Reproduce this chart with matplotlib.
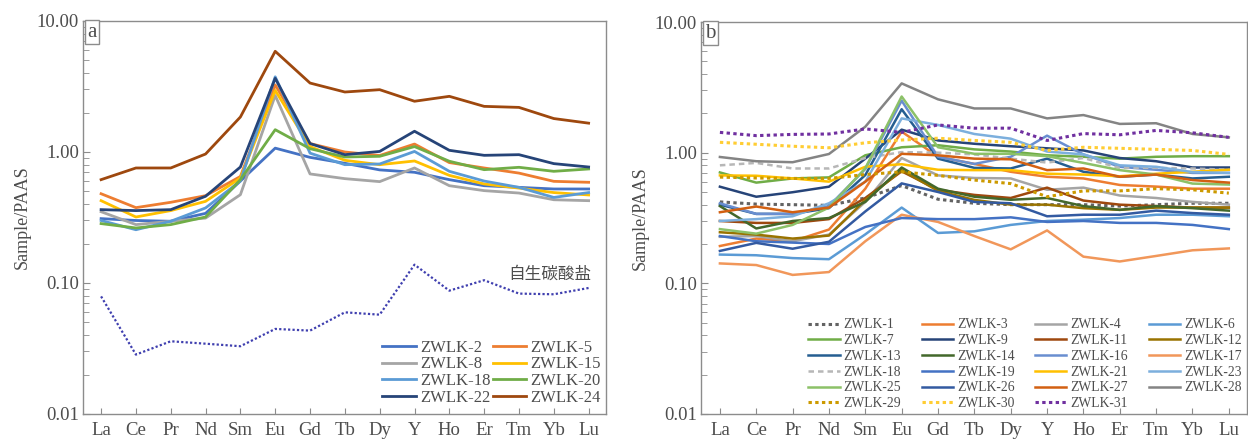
import matplotlib
matplotlib.use("Agg")
import matplotlib.pyplot as plt
from matplotlib.ticker import LogLocator, FixedLocator, FuncFormatter, NullFormatter

plt.rcParams['font.family'] = ['Liberation Serif', 'DejaVu Serif']

# ===== dados =====
elementos = ["La", "Ce", "Pr", "Nd", "Sm", "Eu", "Gd", "Tb", "Dy", "Y", "Ho", "Er", "Tm", "Yb", "Lu"]

# painel a
zwlk2 = [0.31, 0.30, 0.296, 0.34, 0.60, 1.07, 0.91, 0.82, 0.73, 0.70, 0.615, 0.553, 0.537, 0.522, 0.522]
zwlk5 = [0.48, 0.376, 0.413, 0.464, 0.65, 3.25, 1.16, 1.0, 0.94, 1.15, 0.83, 0.755, 0.69, 0.597, 0.587]
zwlk8 = [0.35, 0.279, 0.296, 0.313, 0.472, 2.7, 0.68, 0.626, 0.594, 0.755, 0.553, 0.507, 0.486, 0.432, 0.425]
zwlk15 = [0.425, 0.319, 0.357, 0.42, 0.633, 2.95, 1.1, 0.864, 0.80, 0.854, 0.663, 0.57, 0.53, 0.49, 0.47]
zwlk18a = [0.30, 0.255, 0.296, 0.374, 0.60, 3.75, 0.98, 0.80, 0.81, 1.01, 0.712, 0.60, 0.537, 0.45, 0.49]
zwlk20 = [0.284, 0.263, 0.279, 0.319, 0.615, 1.48, 1.06, 0.916, 0.927, 1.10, 0.85, 0.733, 0.764, 0.712, 0.742]
zwlk22 = [0.363, 0.357, 0.363, 0.459, 0.768, 3.65, 1.16, 0.954, 1.01, 1.44, 1.03, 0.943, 0.954, 0.815, 0.768]
zwlk24 = [0.615, 0.755, 0.755, 0.965, 1.85, 5.87, 3.36, 2.87, 2.99, 2.44, 2.66, 2.23, 2.19, 1.80, 1.66]
carbonato = [0.079, 0.0284, 0.0359, 0.0344, 0.0329, 0.0446, 0.0433, 0.0597, 0.0573, 0.138, 0.0874, 0.105, 0.083, 0.082, 0.0916]

# painel b
zwlk1 = [0.42, 0.404, 0.40, 0.395, 0.45, 0.56, 0.44, 0.41, 0.40, 0.40, 0.40, 0.39, 0.40, 0.41, 0.41]
zwlk3 = [0.193, 0.22, 0.21, 0.258, 0.53, 1.45, 0.93, 0.82, 0.714, 0.654, 0.635, 0.566, 0.55, 0.53, 0.53]
zwlk4 = [0.227, 0.23, 0.21, 0.236, 0.42, 0.91, 0.67, 0.64, 0.635, 0.52, 0.54, 0.47, 0.45, 0.42, 0.40]
zwlk6 = [0.166, 0.164, 0.156, 0.153, 0.237, 0.38, 0.243, 0.25, 0.28, 0.30, 0.307, 0.316, 0.335, 0.335, 0.326]
zwlk7 = [0.706, 0.59, 0.635, 0.647, 0.955, 1.10, 1.14, 1.06, 1.02, 0.955, 0.93, 0.90, 0.93, 0.94, 0.94]
zwlk9 = [0.549, 0.46, 0.498, 0.549, 0.9, 1.50, 1.24, 1.17, 1.12, 1.08, 1.04, 0.91, 0.86, 0.77, 0.77]
zwlk11 = [0.30, 0.29, 0.29, 0.31, 0.45, 0.72, 0.52, 0.475, 0.45, 0.54, 0.43, 0.40, 0.39, 0.38, 0.38]
zwlk12 = [0.246, 0.236, 0.22, 0.232, 0.435, 0.735, 0.51, 0.435, 0.40, 0.40, 0.376, 0.365, 0.38, 0.38, 0.38]
zwlk13 = [0.40, 0.34, 0.34, 0.376, 0.674, 2.15, 0.90, 0.765, 0.757, 0.90, 0.714, 0.654, 0.68, 0.635, 0.654]
zwlk14 = [0.39, 0.263, 0.30, 0.316, 0.42, 0.77, 0.53, 0.46, 0.436, 0.45, 0.39, 0.365, 0.39, 0.376, 0.36]
zwlk16 = [0.41, 0.34, 0.34, 0.39, 0.75, 2.5, 0.93, 0.82, 0.93, 1.35, 0.97, 0.78, 0.74, 0.70, 0.70]
zwlk17 = [0.142, 0.138, 0.116, 0.122, 0.21, 0.335, 0.295, 0.23, 0.182, 0.254, 0.16, 0.147, 0.162, 0.179, 0.185]
zwlk18 = [0.80, 0.835, 0.757, 0.757, 0.91, 1.01, 1.0, 0.97, 0.90, 0.84, 0.91, 0.765, 0.765, 0.757, 0.74]
zwlk19 = [0.23, 0.21, 0.205, 0.20, 0.27, 0.316, 0.31, 0.31, 0.32, 0.295, 0.30, 0.29, 0.29, 0.28, 0.26]
zwlk21 = [0.67, 0.666, 0.635, 0.60, 0.78, 0.816, 0.74, 0.735, 0.735, 0.69, 0.68, 0.66, 0.69, 0.714, 0.74]
zwlk23 = [0.30, 0.31, 0.326, 0.41, 0.60, 1.83, 1.63, 1.39, 1.28, 1.02, 0.97, 0.80, 0.78, 0.71, 0.70]
zwlk25 = [0.26, 0.24, 0.28, 0.38, 0.76, 2.69, 1.10, 0.98, 0.98, 0.94, 0.835, 0.735, 0.68, 0.58, 0.57]
zwlk26 = [0.177, 0.204, 0.184, 0.208, 0.355, 0.582, 0.50, 0.42, 0.41, 0.326, 0.335, 0.335, 0.36, 0.345, 0.335]
zwlk27 = [0.35, 0.387, 0.35, 0.38, 0.60, 0.98, 0.955, 0.90, 0.89, 0.735, 0.757, 0.654, 0.68, 0.617, 0.59]
zwlk28 = [0.927, 0.86, 0.845, 0.977, 1.58, 3.39, 2.56, 2.18, 2.18, 1.83, 1.94, 1.66, 1.68, 1.39, 1.31]
zwlk29 = [0.65, 0.64, 0.635, 0.635, 0.68, 0.714, 0.67, 0.617, 0.58, 0.46, 0.51, 0.51, 0.53, 0.52, 0.49]
zwlk30 = [1.2, 1.16, 1.12, 1.09, 1.19, 1.25, 1.29, 1.24, 1.20, 1.04, 1.10, 1.08, 1.06, 1.04, 0.97]
zwlk31 = [1.43, 1.35, 1.38, 1.39, 1.52, 1.43, 1.63, 1.54, 1.54, 1.24, 1.40, 1.37, 1.48, 1.42, 1.31]

SOLID = "-"
PONTO = (0, (1.1, 1.1))
TRACO = (0, (2.2, 1.6))

series_a = [
    ("ZWLK-2", zwlk2, "#4472C4"),
    ("ZWLK-5", zwlk5, "#ED7D31"),
    ("ZWLK-8", zwlk8, "#A5A5A5"),
    ("ZWLK-15", zwlk15, "#FFC000"),
    ("ZWLK-18", zwlk18a, "#5B9BD5"),
    ("ZWLK-20", zwlk20, "#70AD47"),
    ("ZWLK-22", zwlk22, "#264478"),
    ("ZWLK-24", zwlk24, "#9E480E"),
]

series_b = [
    ("ZWLK-1", zwlk1, "#636363", PONTO),
    ("ZWLK-3", zwlk3, "#ED7D31", SOLID),
    ("ZWLK-4", zwlk4, "#A5A5A5", SOLID),
    ("ZWLK-6", zwlk6, "#5B9BD5", SOLID),
    ("ZWLK-7", zwlk7, "#70AD47", SOLID),
    ("ZWLK-9", zwlk9, "#264478", SOLID),
    ("ZWLK-11", zwlk11, "#9E480E", SOLID),
    ("ZWLK-12", zwlk12, "#997300", SOLID),
    ("ZWLK-13", zwlk13, "#255E91", SOLID),
    ("ZWLK-14", zwlk14, "#43682B", SOLID),
    ("ZWLK-16", zwlk16, "#698ED0", SOLID),
    ("ZWLK-17", zwlk17, "#F1975A", SOLID),
    ("ZWLK-18", zwlk18, "#B7B7B7", TRACO),
    ("ZWLK-19", zwlk19, "#4472C4", SOLID),
    ("ZWLK-21", zwlk21, "#FFC000", SOLID),
    ("ZWLK-23", zwlk23, "#7CAFDD", SOLID),
    ("ZWLK-25", zwlk25, "#8CC168", SOLID),
    ("ZWLK-26", zwlk26, "#335AA1", SOLID),
    ("ZWLK-27", zwlk27, "#D26012", SOLID),
    ("ZWLK-28", zwlk28, "#848484", SOLID),
    ("ZWLK-29", zwlk29, "#CC9A00", PONTO),
    ("ZWLK-30", zwlk30, "#FFCD33", PONTO),
    ("ZWLK-31", zwlk31, "#7030A0", PONTO),
]

COR_EIXO = "#8c8c8c"
COR_TEXTO = "#4d4d4d"


def por_colunas(itens, ncol):
    # legenda do matplotlib preenche por coluna; aqui a ordem vem por linha
    n = len(itens)
    nlin = -(-n // ncol)
    return [itens[r * ncol + j] for j in range(ncol) for r in range(nlin) if r * ncol + j < n]


def formata_eixo(ax, letra):
    ax.set_yscale("log")
    ax.set_ylim(0.01, 10)
    ax.set_xlim(-0.52, 14.5)
    ax.set_xticks(range(len(elementos)))
    ax.set_xticklabels(elementos)
    ax.yaxis.set_major_locator(FixedLocator([0.01, 0.1, 1, 10]))
    ax.yaxis.set_major_formatter(FuncFormatter(lambda v, p: "%.2f" % v))
    ax.yaxis.set_minor_locator(LogLocator(base=10, subs=range(2, 10)))
    ax.yaxis.set_minor_formatter(NullFormatter())
    ax.tick_params(axis="both", which="both", direction="in", colors=COR_EIXO,
                   labelcolor=COR_TEXTO, right=False, top=False)
    ax.tick_params(axis="y", which="major", length=5, labelsize=13.5, pad=3)
    ax.tick_params(axis="y", which="minor", length=4)
    ax.tick_params(axis="x", which="major", length=4, labelsize=13.5, pad=6)
    for s in ax.spines.values():
        s.set_color(COR_EIXO)
        s.set_linewidth(1.0)
    ax.set_ylabel("Sample/PAAS", fontsize=13, color=COR_TEXTO, labelpad=4)
    ax.text(0.008, 0.996, letra, transform=ax.transAxes, ha="left", va="top",
            fontsize=15, color=COR_TEXTO,
            bbox=dict(boxstyle="square,pad=0.12", fc="white", ec=COR_EIXO, lw=1.0))


fig = plt.figure(figsize=(12.48, 4.43), dpi=100)
ax1 = fig.add_axes([0.0665, 0.0655, 0.4191, 0.8871])
ax2 = fig.add_axes([0.5617, 0.0655, 0.4375, 0.8848])

x = list(range(len(elementos)))

# =========================
# painel a
# =========================
linhas_a = []
for nome, vals, cor in series_a:
    l, = ax1.plot(x, vals, color=cor, lw=2.0, label=nome)
    linhas_a.append(l)
ax1.plot(x, carbonato, color="#3F3FAF", lw=1.6, ls=(0, (1, 1)))
ax1.text(14.08, 0.117, "自生碳酸盐", ha="right", va="center", fontsize=12,
         color=COR_TEXTO, family=["Noto Sans CJK SC", "DejaVu Sans"])
formata_eixo(ax1, "a")

ha = por_colunas(linhas_a, 2)
ax1.legend(ha, [h.get_label() for h in ha], ncol=2, loc="lower right",
           bbox_to_anchor=(0.99, 0.02), frameon=False, fontsize=12,
           handlelength=2.0, handletextpad=0.25, columnspacing=0.15,
           labelspacing=0.05, borderpad=0, borderaxespad=0, labelcolor=COR_TEXTO)

# =========================
# painel b
# =========================
linhas_b = []
for nome, vals, cor, estilo in series_b:
    lw = 2.2 if estilo == PONTO else 1.8
    l, = ax2.plot(x, vals, color=cor, lw=lw, ls=estilo, label=nome)
    linhas_b.append(l)
formata_eixo(ax2, "b")

hb = por_colunas(linhas_b, 4)
ax2.legend(hb, [h.get_label() for h in hb], ncol=4, loc="lower right",
           bbox_to_anchor=(0.99, 0.01), frameon=False, fontsize=9.8,
           handlelength=2.3, handletextpad=0.3, columnspacing=1.5,
           labelspacing=0.2, borderpad=0, borderaxespad=0, labelcolor=COR_TEXTO)

fig.savefig("out.png", dpi=100)
